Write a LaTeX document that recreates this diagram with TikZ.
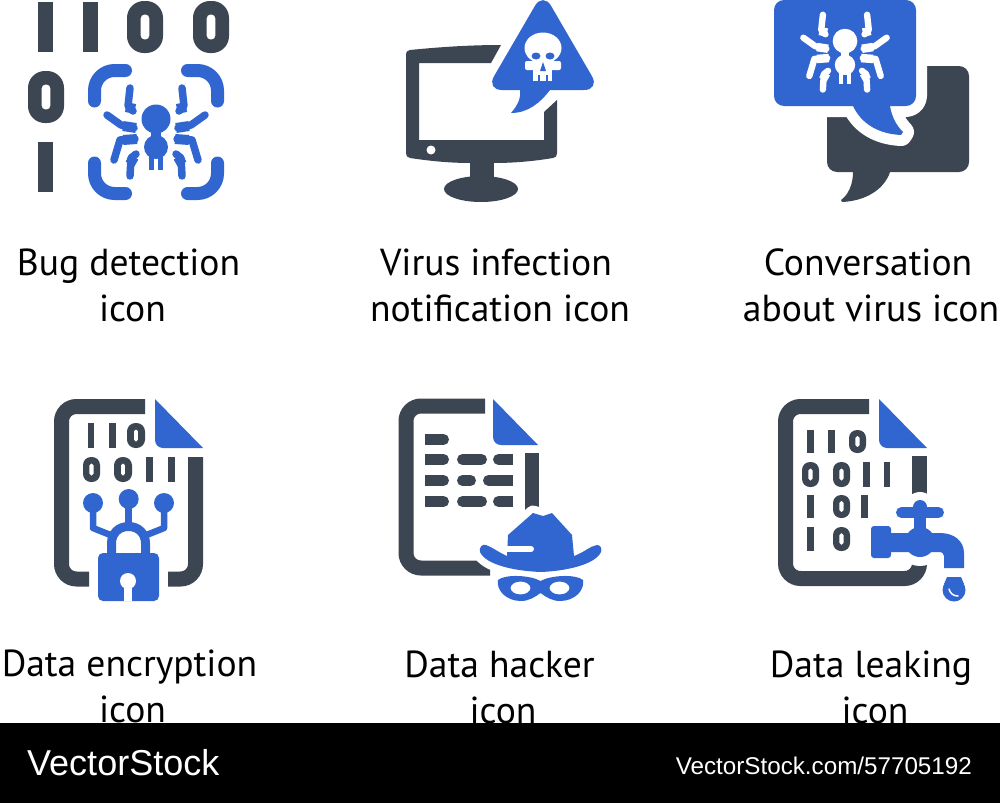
\documentclass[tikz,border=0pt]{standalone}
\usepackage{fontspec}
\setmainfont{PT Sans}
\newfontfamily\logofont{Liberation Sans}
\definecolor{slatedark}{HTML}{3C4552}
\definecolor{iconblue}{HTML}{3166D0}
\tikzset{
  darkfill/.style={fill=slatedark},
  bluefill/.style={fill=iconblue},
  docline/.style={draw=slatedark,line width=15,rounded corners=15},
  bluestroke/.style={draw=iconblue,line cap=round,line join=round},
  fullbar/.style={draw=slatedark,line width=11,line cap=round},
  flatbar/.style={draw=slatedark,line width=11},
  halo/.style={preaction={draw=white,line width=#1,line join=round}},
  iconlabel/.style={font=\fontsize{37.6}{46}\selectfont,align=center,inner sep=0pt},
}
\newcommand{\bitone}[4]{\fill[darkfill] (#1,#2) rectangle (#3,#4);}
\newcommand{\bitzero}[4]{%
  \pgfmathsetmacro{\bitw}{#3-#1}
  \pgfmathsetmacro{\bith}{#4-#2}
  \fill[darkfill,even odd rule,rounded corners=0.47*\bitw]
    (#1,#2) rectangle (#3,#4)
    [rounded corners=0.1*\bitw]
    (#1+0.38*\bitw,#2+0.26*\bith) rectangle (#3-0.38*\bitw,#4-0.26*\bith);}
\newcommand{\foldshape}[4]{%
  \fill[bluefill] (#1,#2) -- (#3,#4) -- (#1+8,#4) .. controls (#1+3.6,#4) and (#1,#4-3.6) .. (#1,#4-8) -- cycle;}
\newcommand{\bugshape}[4]{%
  \begin{scope}[shift={(#1,#2)},scale=#3]
    \fill[#4] (0,-14) circle (14.5);
    \fill[#4] (0,14) circle (12);
    \fill[#4] (-5,-2) rectangle (5,4);
    \fill[#4] (-7,22) rectangle (-2,37);
    \fill[#4] (2,22) rectangle (7,37);
    \foreach \s in {-1,1} {
      \draw[draw=#4,line width=#3*7.5,line cap=round,line join=round]
        (\s*26,-45) -- (\s*28,-27) -- (\s*23,-22);
      \draw[draw=#4,line width=#3*7.5,line cap=round,line join=round]
        (\s*49,-18) -- (\s*35,-8) -- (\s*22,-5);
      \draw[draw=#4,line width=#3*7.5,line cap=round,line join=round]
        (\s*21,6) -- (\s*36,7) -- (\s*42,27);
      \draw[draw=#4,line width=#3*7.5,line cap=round,line join=round]
        (\s*20,21) -- (\s*25,25) -- (\s*26,43);
      \draw[draw=#4,line width=#3*10] (\s*30,-26) -- (\s*21,-24);
      \draw[draw=#4,line width=#3*10] (\s*33,-7) -- (\s*20,-5);
      \draw[draw=#4,line width=#3*10] (\s*33,7) -- (\s*19,6);
      \draw[draw=#4,line width=#3*10] (\s*26,31) -- (\s*22,24);
    }
  \end{scope}}
\begin{document}
\begin{tikzpicture}[x=1pt,y=-1pt]
\useasboundingbox (0,0) rectangle (1000,803);
\fill[white] (0,0) rectangle (1000,803);

% bug detection
\bitone{38}{2}{53}{52}
\bitone{83}{2}{98}{52}
\bitzero{127}{1}{163}{53}
\bitzero{193}{1}{229}{53}
\bitzero{28}{71}{64}{123}
\bitone{38}{142}{53}{192}
\foreach \sx/\ex/\sy/\ey in {94.5/125.5/101/70.5,217.5/187.5/101/70.5,94.5/125.5/163/193.5,217.5/187.5/163/193.5} {
  \draw[bluestroke,line width=13,rounded corners=20] (\sx,\sy) -- (\sx,\ey) -- (\ex,\ey);
}
\bugshape{156}{133}{1}{iconblue}

% virus infection notification
\fill[darkfill] (501,45) .. controls (470,45) and (440,47) .. (410,50) .. controls (407,50.5) and (406,52) .. (406,54) -- (406,153) .. controls (406,156) and (407,157.5) .. (410,158)
  .. controls (430,161) and (450,163) .. (470,163) -- (494,163) .. controls (515,163) and (535,161) .. (553,158) .. controls (556,157.5) and (557,156) .. (557,153) -- (557,100)
  -- (544,112) -- (544,140) -- (419,140) -- (419,63) -- (491,63) -- cycle;
\fill[darkfill] (470,160) rectangle (494,180);
\fill[darkfill] (481,189) ellipse (37 and 13);
\fill[white] (431,150) circle (4.5);
\fill[bluefill,rounded corners=16] (543,-8) -- (600,90) -- (486,90) -- cycle;
\fill[bluefill] (520,85) -- (520,90) .. controls (521,98) and (518,105) .. (511,113) .. controls (528,113) and (540,103) .. (550,90) -- (550,85) -- cycle;
\fill[white] (543,48) ellipse (18.5 and 15.5);
\fill[white,rounded corners=2] (525,61) rectangle (561,70);
\fill[white] (533,62) rectangle (552,81);
\fill[iconblue] (536,56) ellipse (4.5 and 3.5);
\fill[iconblue] (550,56) ellipse (4.5 and 3.5);
\fill[iconblue] (543,62) -- (546,71) -- (540,71) -- cycle;
\draw[iconblue,line width=1.5] (539,75) -- (539,81);
\draw[iconblue,line width=1.5] (547,75) -- (547,81);

% conversation about virus
\fill[darkfill,rounded corners=10] (827,66) rectangle (969,172);
\fill[darkfill] (853,165) -- (853,172) .. controls (853,185) and (848,195) .. (841,200) -- (842,202) .. controls (865,201) and (884,190) .. (890,172) -- (890,165) -- cycle;
\path[halo=22,bluefill] [rounded corners=10] (774,0) rectangle (916,106) [sharp corners]
  (853,100) -- (853,106) .. controls (862,125) and (880,134) .. (901,135) -- (903,132) .. controls (897,126) and (892,118) .. (890,106) -- (890,100) -- cycle;
\bugshape{845}{53}{0.85}{white}

% data encryption
\draw[docline] (145,406.5) -- (61.5,406.5) -- (61.5,579) -- (89,579);
\draw[docline] (168,579) -- (195.5,579) -- (195.5,457);
\foldshape{155}{399}{203}{448}
\bitone{88}{423}{94}{448}
\bitone{109}{423}{116}{448}
\bitzero{127}{423}{145}{448}
\bitzero{83}{457}{100}{482}
\bitzero{114}{457}{132}{482}
\bitone{146}{457}{153}{482}
\bitone{168}{457}{175}{482}
\foreach \cx/\cy in {93/503,128.7/499,164/503} {
  \fill[bluefill] (\cx,\cy) circle (10);
}
\draw[draw=iconblue,line width=6.5,line join=round] (93,503) -- (93,528) -- (113,536);
\draw[draw=iconblue,line width=6.5,line join=round] (164,503) -- (164,528) -- (144,536);
\draw[draw=iconblue,line width=6.5] (128.7,499) -- (128.7,525);
\draw[draw=iconblue,line width=9] (111.5,556) -- (111.5,543.5) .. controls (111.5,533.5) and (118.5,526.5) .. (128.5,526.5)
  .. controls (138.5,526.5) and (145.5,533.5) .. (145.5,543.5) -- (145.5,556);
\fill[bluefill,rounded corners=5] (98,553) rectangle (159,601);
\fill[white] (128,581) circle (8);
\fill[white] (124,581) rectangle (132,601);

% data hacker
\draw[docline] (485,406) -- (406,406) -- (406,568) -- (490,568);
\draw[flatbar,line width=14] (532,453) -- (532,515);
\foldshape{493}{399}{538}{445}
\foreach \y in {439.5,459.5,480.5,501.5} {
  \draw[fullbar] (430.5,\y) -- (443.5,\y);
  \draw[flatbar] (425,\y) -- (435,\y);
}
\foreach \y in {459.5,501.5} {
  \draw[fullbar] (462.5,\y) -- (481.5,\y);
  \draw[fullbar] (498.5,\y) -- (505,\y);
  \draw[flatbar] (502,\y) -- (513,\y);
}
\draw[fullbar] (462.5,480.5) -- (470.5,480.5);
\draw[fullbar] (488.5,480.5) -- (500,480.5);
\draw[flatbar] (495,480.5) -- (513,480.5);
\path[halo=15,bluefill] (508,535) -- (533,513) -- (543,516) -- (552,513) -- (572,535) -- (574,556)
  .. controls (585,552) and (590,546) .. (597,545) .. controls (601,545) and (602,549) .. (601,552)
  .. controls (595,565) and (565,571) .. (541,572) .. controls (515,571) and (486,565) .. (480,552)
  .. controls (479,547) and (482,544) .. (486,545) .. controls (492,547) and (498,552) .. (507,556) -- cycle;
\draw[draw=white,line width=6,line cap=round] (504,549) -- (531,549);
\fill[bluefill,even odd rule] (498,580) .. controls (505,574) and (530,575) .. (540.5,581) .. controls (551,575) and (576,574) .. (583,580)
  .. controls (585,590) and (575,601) .. (560,601) .. controls (552,601) and (546,597) .. (540.5,593)
  .. controls (535,597) and (529,601) .. (521,601) .. controls (506,601) and (496,590) .. (498,580) -- cycle
  (520.5,588) ellipse (10 and 6.5) (559.5,588) ellipse (10 and 6.5);

% data leaking
\draw[docline] (869,406.5) -- (785.5,406.5) -- (785.5,578.5) -- (919.5,578.5) -- (919.5,560);
\draw[flatbar,line width=15] (919.5,456) -- (919.5,500);
\foldshape{879}{399}{927}{448}
\bitone{807}{430}{814}{453}
\bitone{828}{430}{835}{453}
\bitzero{849}{430}{866}{453}
\bitzero{802}{462}{819}{487}
\bitzero{833}{462}{850}{487}
\bitone{863}{462}{870}{487}
\bitone{884}{462}{890}{487}
\bitone{807}{495}{814}{518}
\bitzero{833}{495}{850}{518}
\bitone{861}{495}{868}{518}
\bitone{807}{527}{814}{551}
\bitzero{833}{527}{850}{551}
\fill[white] (920,507) circle (15);
\fill[white] (920,542) circle (24);
\fill[bluefill] (920,507) circle (7);
\draw[draw=iconblue,line width=11,line cap=round] (901.5,512.5) -- (938.5,512.5);
\fill[bluefill] (914,507) rectangle (926,532);
\fill[bluefill] (920,542) circle (15);
\fill[bluefill,rounded corners=3] (871,526) rectangle (891,558);
\fill[bluefill] (889,533) -- (940,533) .. controls (954,533) and (964,541) .. (964,553) -- (964,568) -- (944,568) -- (944,556)
  .. controls (944,553) and (942,552) .. (938,552) -- (889,552) -- cycle;
\fill[bluefill] (954,590) circle (11.5);
\fill[bluefill] (947,577) -- (961,577) -- (964,584) -- (944,584) -- cycle;
\draw[draw=white,line width=1.5,line cap=round] (949,589) .. controls (950,593) and (953,596) .. (958,596);

% labels
\node[iconlabel] (lblbug) at (128.5,285) {Bug detection\\\hspace*{8pt}icon};
\node[iconlabel] (lblvirus) at (496,285) {Virus infection\\\hspace*{8pt}notification icon};
\node[iconlabel] (lblchat) at (868,285) {Conversation\\\hspace*{6pt}about virus icon};
\node[iconlabel] (lblcrypt) at (129.5,686) {Data encryption\\\hspace*{6pt}icon};
\node[iconlabel] (lblhack) at (499.5,687) {Data hacker\\\hspace*{7pt}icon};
\node[iconlabel] (lblleak) at (871,687) {Data leaking\\\hspace*{8pt}icon};

% footer
\fill[black] (0,723) rectangle (1000,803);
\node[anchor=west,inner sep=0pt,text=white,font=\logofont\fontsize{36}{40}\selectfont] (logo) at (27,763) {VectorStock};
\node[anchor=east,inner sep=0pt,text=white,font=\logofont\fontsize{24.2}{28}\selectfont] (imgid) at (972,766) {VectorStock.com/57705192};
\end{tikzpicture}
\end{document}
